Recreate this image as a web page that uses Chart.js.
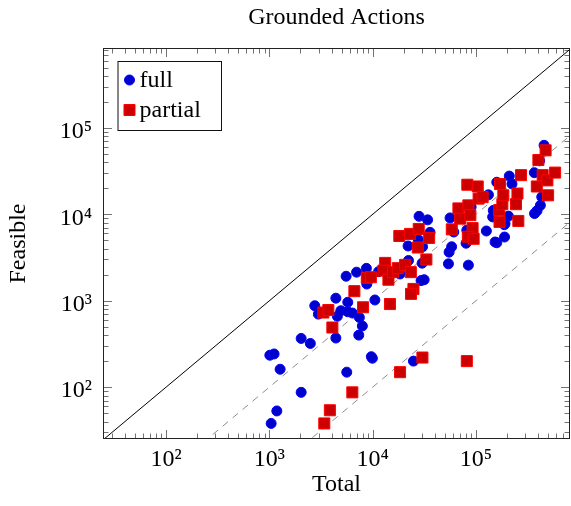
<!DOCTYPE html>
<html><head><meta charset="utf-8">
<script src="https://cdn.jsdelivr.net/npm/chart.js@4/dist/chart.umd.min.js"></script>
<style>html,body{margin:0;padding:0;background:#fff;}</style>
</head><body>
<canvas id="c" width="571" height="506"></canvas>
<script>
// ---- data ----
const fullTotal = [1040,1180,2030,1010,1110,1270,2030,2490,2750,2980,4400,4550,4910,5740,5740,6360,7430,7940,7330,4400,5610,9930,9700,10500,5530,6980,8690,8770,11400,18400,22200,22000,28100,34000,35900,27700,30400,30100,29400,31500,54100,54900,58100,56100,60900,81500,80200,84400,89700,126000,132000,159000,189000,145000,147000,159000,210000,223000,188000,206000,369000,390000,420000,433000,367000,413000,456000,24800,87700,153000,191000];
const fullFeasible = [38,53,87,234,242,161,366,320,875,700,1070,660,765,960,745,720,640,510,400,370,149,216,225,1020,1920,2140,2370,1560,2170,2040,2920,4300,9480,8630,6180,5080,4210,2720,1710,1750,2670,3650,4210,9080,6240,6550,4630,2580,12200,6410,16800,4690,5460,9330,11100,23500,27700,22500,7590,9530,10200,11000,12700,15900,30300,41600,62900,200,5460,4780,7800];
const partialTotal = [3400,3850,6350,18400,30300,81500,3330,3720,4070,6650,8070,8770,9600,14700,13200,12700,14200,15700,17500,20600,23400,24800,23500,33100,18100,23000,27900,35200,27300,58300,67600,70200,84400,88200,92700,83400,94900,82400,104000,106000,116000,168000,180000,184000,171000,169000,244000,252000,257000,273000,388000,442000,491000,583000,499000,402000,472000];
const partialFeasible = [38,54,87,149,220,200,730,780,490,1290,840,1840,1870,915,2740,2230,1750,2140,2380,2600,2140,1370,1200,3000,5610,5930,6770,5330,4130,6700,11700,8910,12700,9790,6920,5500,5210,22000,21000,15200,15800,11200,13100,16600,22400,8170,13100,17400,8380,28400,21000,28400,24700,30400,16600,42500,55000];
const majorTicks = [100, 1000, 10000, 100000];
const tickLabels = ['10²', '10³', '10⁴', '10⁵'];
const minorMultiples = [2,3,4,5,6,7,8,9];
const refRatios = [1, 0.1, 0.01];
const xMin = 24.5, xMax = 813000, yMin = 25.1, yMax = 841000;
const seriesLabels = ['full', 'partial'];

const FONT = "'Liberation Serif', 'DejaVu Serif', serif";
const toPts = (xs, ys) => xs.map((v, i) => ({x: v, y: ys[i]}));

const refDatasets = refRatios.map((r, i) => ({
  type: 'line',
  data: [{x: xMin, y: xMin * r}, {x: xMax, y: xMax * r}],
  borderColor: i === 0 ? '#000000' : '#8c8c8c',
  borderWidth: 1,
  borderDash: i === 0 ? [] : [7, 6],
  pointRadius: 0,
  fill: false,
  order: 3
}));

const allTicks = (min, max) => {
  const out = [];
  for (let e = 0; e <= 7; e++) {
    const d = Math.pow(10, e);
    if (d >= min && d <= max) out.push({v: d, major: true});
    minorMultiples.forEach(k => { const v = k * d; if (v >= min && v <= max) out.push({v, major: false}); });
  }
  return out;
};

const framePlugin = {
  id: 'frameTicks',
  afterDraw(chart) {
    const {ctx, chartArea: a, scales: {x, y}} = chart;
    ctx.save();
    ctx.strokeStyle = 'rgba(0,0,0,0.55)';
    ctx.lineWidth = 1;
    ctx.beginPath();
    allTicks(xMin, xMax).forEach(t => {
      const px = Math.round(x.getPixelForValue(t.v)) + 0.5;
      const len = t.major ? 9 : 5.5;
      ctx.moveTo(px, a.bottom); ctx.lineTo(px, a.bottom - len);
      ctx.moveTo(px, a.top); ctx.lineTo(px, a.top + len);
    });
    allTicks(yMin, yMax).forEach(t => {
      const py = Math.round(y.getPixelForValue(t.v)) + 0.5;
      const len = t.major ? 9 : 5.5;
      ctx.moveTo(a.left, py); ctx.lineTo(a.left + len, py);
      ctx.moveTo(a.right, py); ctx.lineTo(a.right - len, py);
    });
    ctx.stroke();
    ctx.strokeStyle = '#222';
    ctx.lineWidth = 1;
    ctx.strokeRect(a.left + 0.5, a.top + 0.5, a.right - a.left - 1, a.bottom - a.top - 1);

    // legend box (top-left, inside plot area)
    const lx = a.left + 14.5, ly = a.top + 13, lw = 103.5, lh = 69;
    ctx.fillStyle = '#fff';
    ctx.fillRect(lx, ly, lw, lh);
    ctx.strokeStyle = '#111';
    ctx.strokeRect(lx + 0.5, ly + 0.5, lw, lh);
    const ds = chart.data.datasets;
    const entries = [ds.find(d => d.label === seriesLabels[0]), ds.find(d => d.label === seriesLabels[1])];
    entries.forEach((d, i) => {
      const cx = lx + 12, cy = ly + 19 + i * 30;
      ctx.fillStyle = d.backgroundColor;
      ctx.strokeStyle = d.borderColor;
      ctx.lineWidth = 1;
      ctx.beginPath();
      if (d.pointStyle === 'rect') {
        const s = d.pointRadius * Math.SQRT1_2;
        ctx.rect(cx - s, cy - s, 2 * s, 2 * s);
      } else {
        ctx.arc(cx, cy, d.pointRadius, 0, Math.PI * 2);
      }
      ctx.fill(); ctx.stroke();
      ctx.fillStyle = '#000';
      ctx.font = '24px ' + FONT;
      ctx.textBaseline = 'alphabetic';
      ctx.textAlign = 'left';
      ctx.fillText(d.label, lx + 22, ly + 25.5 + i * 30);
    });
    ctx.restore();
  }
};

const logAxis = (min, max, title, isX) => ({
  type: 'logarithmic',
  min, max,
  grid: {display: false, drawTicks: false},
  border: {display: false},
  afterBuildTicks: s => { s.ticks = majorTicks.map(v => ({value: v, major: true})); },
  afterFit: s => { if (isX) s.height = 67; else s.width = 103; },
  ticks: {
    autoSkip: false, maxRotation: 0, minRotation: 0,
    color: '#000',
    font: {family: FONT, size: 24},
    padding: isX ? 6.8 : 11,
    labelOffset: isX ? 0 : 4,
    callback: v => { const i = majorTicks.indexOf(v); return i >= 0 ? tickLabels[i] : ''; }
  },
  title: {
    display: true, text: title, color: '#000',
    font: {family: FONT, size: 24},
    padding: isX ? {top: 0, bottom: 6.4} : {top: 4, bottom: 0}
  }
});

new Chart(document.getElementById('c'), {
  type: 'scatter',
  data: {
    datasets: [
      {label: seriesLabels[1], data: toPts(partialTotal, partialFeasible), pointStyle: 'rect', pointRadius: 7.8,
       backgroundColor: '#cc0000', borderColor: '#ff0000', borderWidth: 1, order: 0},
      {label: seriesLabels[0], data: toPts(fullTotal, fullFeasible), pointStyle: 'circle', pointRadius: 5,
       backgroundColor: '#0000cc', borderColor: '#0000ff', borderWidth: 1, order: 1},
      ...refDatasets
    ]
  },
  options: {
    responsive: false,
    animation: false,
    events: [],
    devicePixelRatio: 1,
    layout: {autoPadding: false, padding: {left: 0, right: 1, top: 0, bottom: 0}},
    plugins: {
      legend: {display: false},
      tooltip: {enabled: false},
      title: {
        display: true, text: 'Grounded Actions', color: '#000', fullSize: false,
        font: {family: FONT, size: 24, weight: 'normal'},
        padding: {top: 3.5, bottom: 15.7}
      }
    },
    scales: {
      x: logAxis(xMin, xMax, 'Total', true),
      y: logAxis(yMin, yMax, 'Feasible', false)
    }
  },
  plugins: [framePlugin]
});
</script>
</body></html>
